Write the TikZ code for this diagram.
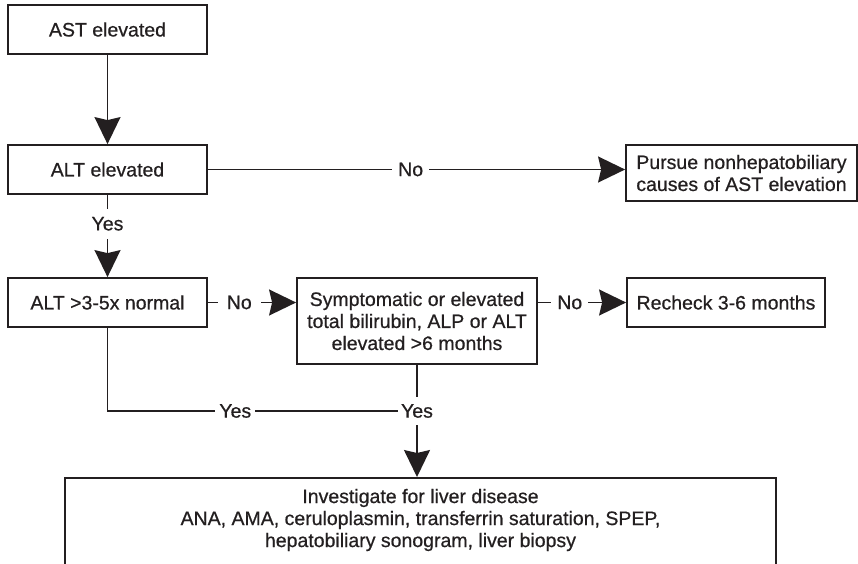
\documentclass[tikz,border=0pt]{standalone}
\usepackage{fontspec}
\setmainfont{Liberation Sans}[FakeBold=0.6]
\usetikzlibrary{arrows.meta}
\definecolor{ink}{RGB}{35,31,32}
\begin{document}
\begin{tikzpicture}[x=1pt,y=-1pt,
  every node/.style={font=\fontsize{19.5}{22}\selectfont, text=ink},
  box/.style={draw=ink, line width=1.8pt, align=center, inner sep=0pt},
  conn/.style={draw=ink, line width=1.6pt},
  arr/.style={conn, -{Stealth[length=27pt,width=26pt,inset=3pt]}},
  lbl/.style={fill=white, inner xsep=6pt, inner ysep=6pt},
]
\clip (0,0) rectangle (858,563);
\fill[white] (0,0) rectangle (858,563);

% boxes
\node[box, minimum width=199pt, minimum height=49pt] (ast) at (107.5,29.5) {AST elevated};
\node[box, minimum width=199pt, minimum height=49pt] (alt) at (107.5,169.5) {ALT elevated};
\node[box, minimum width=231pt, minimum height=56pt] (pur) at (741.5,173) {Pursue nonhepatobiliary\\causes of AST elevation};
\node[box, minimum width=199pt, minimum height=49pt] (alt35) at (107.5,302.5) {ALT >3-5x normal};
\node[box, minimum width=240pt, minimum height=86pt] (sym) at (417,321) {Symptomatic or elevated\\total bilirubin, ALP or ALT\\elevated >6 months};
\node[box, minimum width=198pt, minimum height=49pt] (rec) at (726,302.5) {Recheck 3-6 months};
\node[box, minimum width=711pt, anchor=north, inner ysep=11pt] (inv) at (420.5,477)
  {Investigate for liver disease\\ANA, AMA, ceruloplasmin, transferrin saturation, SPEP,\\hepatobiliary sonogram, liver biopsy\rule[-40pt]{0pt}{0pt}};

% connectors
\draw[arr] (ast) -- (alt);
\draw[arr] (alt.east) -- node[lbl, pos=0.486] (n1) {No} (alt.east -| pur.west);
\draw[arr] (alt) -- node[lbl, pos=0.351, inner ysep=8pt] (y1) {Yes} (alt35);
\draw[arr] (alt35.east) -- node[lbl, pos=0.356, inner xsep=9pt] (n2) {No} (alt35.east -| sym.west);
\draw[arr] (sym.east |- rec.west) -- node[lbl, pos=0.361] (n3) {No} (rec.west);

\node[lbl, inner xsep=3pt, inner ysep=7pt] (y3) at (417,411) {Yes};
\draw[conn] (sym.south) -- (y3);
\draw[conn] (alt35.south) |- node[lbl, pos=0.72, inner xsep=4pt] (y2) {Yes} (y3);
\draw[arr] (y3) -- (y3 |- inv.north);
\end{tikzpicture}
\end{document}
